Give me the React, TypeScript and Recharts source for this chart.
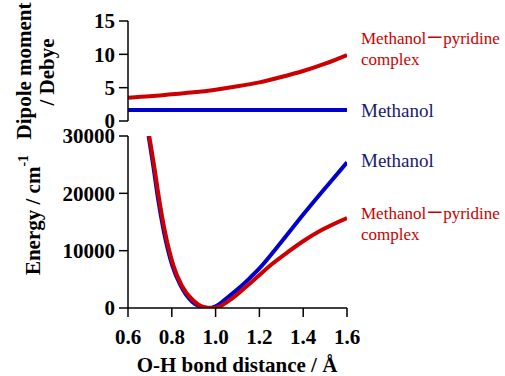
import { LineChart, Line, XAxis, YAxis } from 'recharts';

// top panel: dipole moment (Debye) vs O-H distance (Å)
const dipoleR = [0.6, 0.7, 0.8, 0.9, 1.0, 1.1, 1.2, 1.3, 1.4, 1.5, 1.6];
const dipoleComplex = [3.5, 3.7, 4.0, 4.3, 4.7, 5.2, 5.8, 6.6, 7.5, 8.6, 9.9];
const dipoleMethanol = [1.65, 1.65, 1.65, 1.65, 1.65, 1.65, 1.65, 1.65, 1.65, 1.65, 1.65];

// bottom panel: potential energy (cm-1) vs O-H distance (Å)
const energyMethanolR = [0.694, 0.715, 0.737, 0.764, 0.802, 0.84, 0.893, 0.93, 0.967, 1.0, 1.05, 1.1, 1.15, 1.2, 1.3, 1.4, 1.5, 1.6];
const energyMethanol = [30000, 24900, 19100, 13300, 7450, 3960, 1100, 250, 0, 300, 1700, 3250, 5000, 6900, 11500, 16300, 20900, 25400];
const energyComplexR = [0.697, 0.719, 0.742, 0.769, 0.807, 0.845, 0.898, 0.94, 0.982, 1.02, 1.066, 1.142, 1.195, 1.256, 1.332, 1.408, 1.484, 1.6];
const energyComplex = [30000, 24890, 19060, 13260, 7450, 3960, 1300, 250, 0, 300, 1400, 3800, 5580, 7620, 9820, 11860, 13600, 15700];

const xTicks = [0.6, 0.8, 1.0, 1.2, 1.4, 1.6];
const dipoleTicks = [0, 5, 10, 15];
const energyTicks = [0, 10000, 20000, 30000];

const RED = '#cc0000';
const BLUE = '#0000cc';
const NAVY = '#1a1a6e';
const FONT = "'Liberation Serif', 'Times New Roman', serif";

const toRows = (r: number[], v: number[]) => r.map((x, i) => ({ r: x, v: v[i] }));

const tickStyle = { fill: '#000', fontSize: 21, fontWeight: 'bold' as const, fontFamily: FONT };

export default function App() {
  return (
    <div style={{ position: 'absolute', left: 0, top: 0, width: 505, height: 376, background: '#fff' }}>
      <div style={{ position: 'absolute', left: 0, top: 0 }}>
        <LineChart width={505} height={140} margin={{ top: 21, right: 158, bottom: 19, left: 68 }}>
          <XAxis dataKey="r" type="number" domain={[0.6, 1.6]} hide allowDataOverflow />
          <YAxis
            width={60}
            domain={[0, 15]}
            ticks={dipoleTicks}
            tickSize={9}
            tickMargin={4}
            tick={tickStyle}
            axisLine={{ stroke: '#000', strokeWidth: 1.5 }}
            tickLine={{ stroke: '#000', strokeWidth: 1.5 }}
          />
          <Line data={toRows(dipoleR, dipoleComplex)} dataKey="v" type="monotone" stroke={RED} strokeWidth={4} dot={false} isAnimationActive={false} />
          <Line data={toRows(dipoleR, dipoleMethanol)} dataKey="v" type="monotone" stroke={BLUE} strokeWidth={4} dot={false} isAnimationActive={false} />
        </LineChart>
      </div>
      <div style={{ position: 'absolute', left: 0, top: 0 }}>
        <LineChart width={505} height={376} margin={{ top: 136, right: 158, bottom: 8, left: 68 }}>
          <XAxis
            dataKey="r"
            type="number"
            domain={[0.6, 1.6]}
            ticks={xTicks}
            tickFormatter={(v: number) => v.toFixed(1)}
            height={60}
            tickSize={9}
            tickMargin={12}
            tick={tickStyle}
            axisLine={{ stroke: '#000', strokeWidth: 1.5 }}
            tickLine={{ stroke: '#000', strokeWidth: 1.5 }}
            allowDataOverflow
          />
          <YAxis
            width={60}
            domain={[0, 30000]}
            ticks={energyTicks}
            tickSize={9}
            tickMargin={4}
            tick={tickStyle}
            axisLine={{ stroke: '#000', strokeWidth: 1.5 }}
            tickLine={{ stroke: '#000', strokeWidth: 1.5 }}
            allowDataOverflow
          />
          <Line data={toRows(energyMethanolR, energyMethanol)} dataKey="v" type="monotone" stroke={BLUE} strokeWidth={4} dot={false} isAnimationActive={false} />
          <Line data={toRows(energyComplexR, energyComplex)} dataKey="v" type="monotone" stroke={RED} strokeWidth={4} dot={false} isAnimationActive={false} />
        </LineChart>
      </div>
      <svg width={505} height={376} style={{ position: 'absolute', left: 0, top: 0, pointerEvents: 'none' }}>
        <g fontFamily={FONT} fontWeight="bold" fontSize={21} fill="#000">
          <text transform="translate(31,71) rotate(-90)" textAnchor="middle">Dipole moment</text>
          <text transform="translate(54,72) rotate(-90)" textAnchor="middle">/ Debye</text>
          <text transform="translate(40,215) rotate(-90)" textAnchor="middle">
            Energy / cm<tspan dy={-12} fontSize={14}>-1</tspan>
          </text>
          <text x={237} y={372} textAnchor="middle">O-H bond distance / Å</text>
        </g>
        <g fontFamily={`${FONT}, 'Noto Sans CJK JP'`}>
          <text x={361} y={44} fontSize={17} fill={RED}>Methanol<tspan fontFamily="'Noto Sans CJK JP'">ー</tspan>pyridine</text>
          <text x={361} y={65} fontSize={17} fill={RED}>complex</text>
          <text x={361} y={117} fontSize={19} fill={NAVY}>Methanol</text>
          <text x={361} y={167} fontSize={19} fill={NAVY}>Methanol</text>
          <text x={361} y={219} fontSize={17} fill={RED}>Methanol<tspan fontFamily="'Noto Sans CJK JP'">ー</tspan>pyridine</text>
          <text x={361} y={240} fontSize={17} fill={RED}>complex</text>
        </g>
      </svg>
    </div>
  );
}
